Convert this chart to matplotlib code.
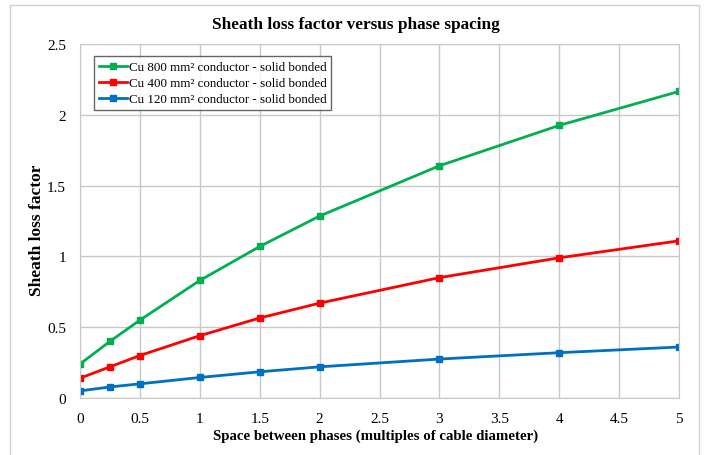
import matplotlib
matplotlib.use('Agg')
from matplotlib import pyplot as plt
from matplotlib.patches import Rectangle

spacing = [0, 0.25, 0.5, 1, 1.5, 2, 3, 4, 5]
cu800 = [0.24, 0.40, 0.55, 0.83, 1.07, 1.285, 1.64, 1.925, 2.165]
cu400 = [0.14, 0.22, 0.30, 0.44, 0.565, 0.67, 0.85, 0.99, 1.11]
cu120 = [0.05, 0.078, 0.10, 0.145, 0.185, 0.22, 0.275, 0.32, 0.36]

labels = ['Cu 800 mm² conductor - solid bonded',
          'Cu 400 mm² conductor - solid bonded',
          'Cu 120 mm² conductor - solid bonded']
colors = ['#00b050', '#ff0000', '#0070c0']
xticks = [0, 0.5, 1, 1.5, 2, 2.5, 3, 3.5, 4, 4.5, 5]
yticks = [0, 0.5, 1, 1.5, 2, 2.5]

plt.rcParams['font.family'] = ['Liberation Serif', 'DejaVu Serif']

fig = plt.figure(figsize=(7.05, 4.56), dpi=100)
ax = fig.add_axes([80/705, 1 - 399/456, 599/705, 354/456])

# outer chart border
fig.patches.append(Rectangle((10/705, -0.05), 689/705, 1 - 6/456 + 0.05,
                             transform=fig.transFigure, fill=False,
                             edgecolor='#d0d0d0', linewidth=1.0))

for ys, c, lab in zip([cu800, cu400, cu120], colors, labels):
    ax.plot(spacing, ys, color=c, linewidth=2, marker='s', markersize=5, label=lab)

ax.set_xlim(0, 5)
ax.set_ylim(0, 2.5)
ax.set_xticks(xticks)
ax.set_xticklabels(['0', '0.5', '1', '1.5', '2', '2.5', '3', '3.5', '4', '4.5', '5'])
ax.set_yticks(yticks)
ax.set_yticklabels(['0', '0.5', '1', '1.5', '2', '2.5'])
ax.tick_params(length=0, labelsize=11, colors='black')
ax.tick_params(axis='x', pad=10)
ax.tick_params(axis='y', pad=10)
ax.grid(True, color='#c8c8c8', linewidth=1)
ax.set_axisbelow(True)
for s in ax.spines.values():
    s.set_color('#c8c8c8')

fig.text(356/705, 1 - 25/456, 'Sheath loss factor versus phase spacing',
         fontsize=12.4, fontweight='bold', ha='center', va='center')
fig.text(376/705, 1 - 436/456, 'Space between phases (multiples of cable diameter)',
         fontsize=10.7, fontweight='bold', ha='center', va='center')
fig.text(37/705, 1 - 230/456, 'Sheath loss factor', rotation=90,
         fontsize=12.5, fontweight='bold', ha='center', va='center')

leg = ax.legend(loc='upper left', bbox_to_anchor=(0.0235, 0.965), fontsize=9.4, frameon=True,
                fancybox=False, edgecolor='#404040', borderpad=0.35, labelspacing=0.3,
                handlelength=2.2, handletextpad=0.1, borderaxespad=0)
leg.get_frame().set_linewidth(1.0)

fig.savefig('out.png', dpi=100)
